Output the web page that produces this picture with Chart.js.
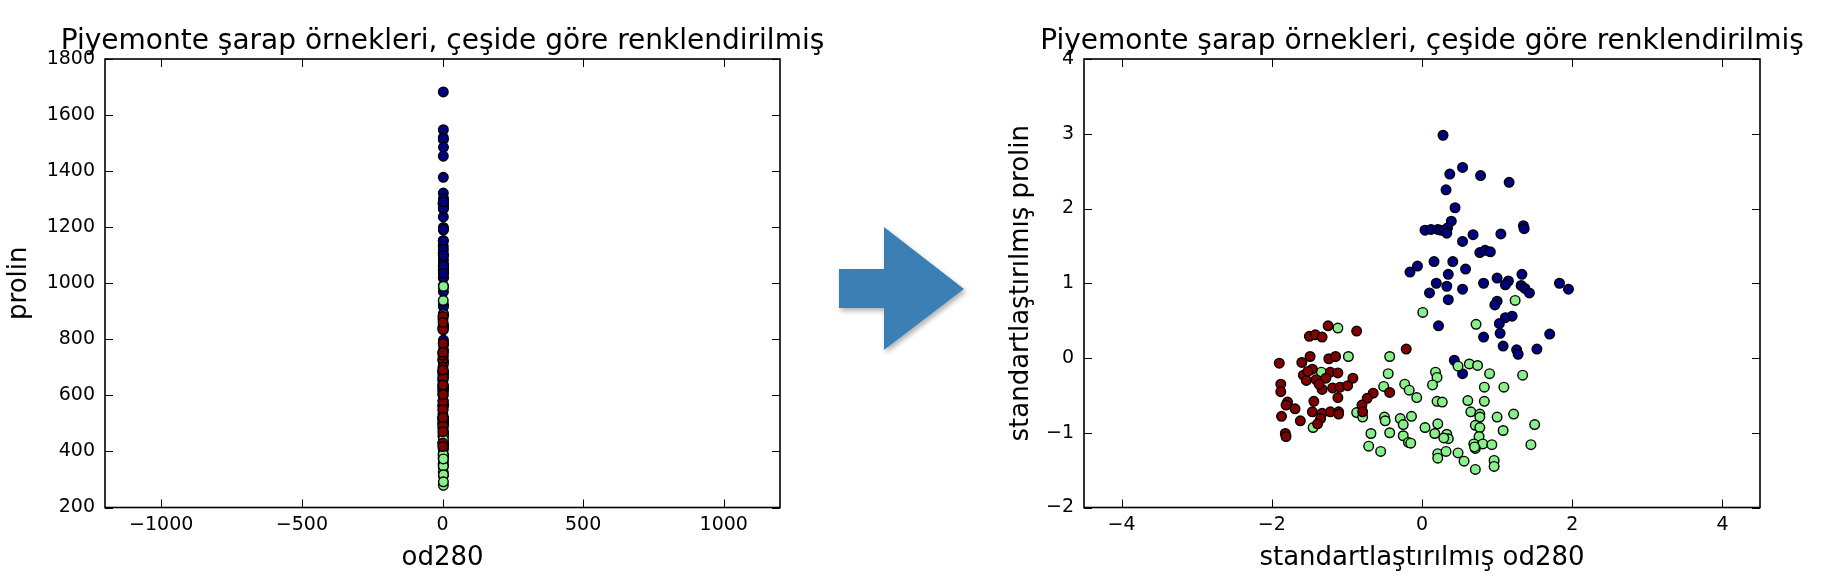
<!DOCTYPE html>
<html>
<head>
<meta charset="utf-8">
<script src="https://cdn.jsdelivr.net/npm/chart.js@4.4.1/dist/chart.umd.min.js"></script>
<style>
  html, body { margin: 0; padding: 0; background: #ffffff; }
  body { width: 1840px; height: 576px; position: relative; overflow: hidden; }
  #rawChart { position: absolute; left: 0; top: 0; }
  #stdChart { position: absolute; left: 920px; top: 0; }
  #arrow { position: absolute; left: 0; top: 0; pointer-events: none; }
</style>
</head>
<body>
<canvas id="rawChart" width="920" height="576"></canvas>
<canvas id="stdChart" width="920" height="576"></canvas>
<svg id="arrow" width="1840" height="576" xmlns="http://www.w3.org/2000/svg">
  <defs>
    <filter id="shade" x="-20%" y="-20%" width="150%" height="150%">
      <feDropShadow dx="2" dy="3" stdDeviation="2.5" flood-color="#000" flood-opacity="0.3"/>
    </filter>
  </defs>
  <polygon points="839,269 884,269 884,227 964,289 884,350 884,308 839,308" fill="#3b7fb4" filter="url(#shade)"/>
</svg>
<script>
// Wine samples from Piedmont, three cultivars.
// Standardized values (z-scores) of od280 and proline per cultivar.
const cultivars = ['Çeşit 1', 'Çeşit 2', 'Çeşit 3'];

const cultivar1Od280 = [0.28, 0.54, 0.37, 0.78, 1.16, 0.32, 0.44, 0.39, 0.34, 0.04,
  0.12, 0.21, 0.25, 0.30, 0.33, 0.54, 0.68, 1.05, 1.35, 1.36,
  0.77, 0.84, 0.91, -0.06, -0.16, 0.16, 0.41, 0.58, 0.35, 0.19,
  0.33, 0.10, 0.54, 0.35, 0.82, 1.00, 1.15, 1.11, 1.33, 1.32,
  1.37, 1.43, 1.83, 1.95, 1.00, 0.97, 0.22, 1.20, 1.11, 1.03,
  1.04, 1.08, 1.70, 0.82, 1.26, 1.28, 1.53, 0.43, 0.54];
const cultivar1Prolin = [2.98, 2.55, 2.46, 2.44, 2.35, 2.25, 2.01, 1.83, 1.74, 1.71,
  1.72, 1.72, 1.71, 1.71, 1.67, 1.56, 1.65, 1.66, 1.77, 1.73,
  1.41, 1.44, 1.42, 1.23, 1.15, 1.29, 1.29, 1.19, 1.12, 1.00,
  0.96, 0.87, 0.92, 0.78, 1.00, 1.07, 1.03, 0.98, 1.12, 0.97,
  0.93, 0.87, 1.00, 0.92, 0.76, 0.71, 0.43, 0.56, 0.54, 0.46,
  0.33, 0.16, 0.32, 0.28, 0.11, 0.05, 0.12, -0.03, -0.21];

const cultivar2Od280 = [-1.12, 0.01, -0.98, -1.34, -0.43, -0.45, -0.51, -0.23, -0.17, -0.07,
  0.18, 0.20, 0.14, 0.20, -0.87, -0.79, -1.45, -0.50, -0.49, -0.29,
  -0.25, -0.14, 0.04, 0.17, 0.21, -0.68, -0.43, -0.25, -0.18, -0.71,
  -0.55, 0.21, 0.21, 1.24, 0.72, 0.48, 0.63, 0.74, 0.90, 1.34,
  0.83, 1.09, 0.27, 0.61, 0.83, 0.65, 0.77, 0.77, 1.00, 1.22,
  1.50, 0.33, 0.35, 0.29, 0.71, 0.77, 0.76, 0.69, 0.81, 0.93,
  0.71, 1.08, 1.45, 0.32, 0.48, 0.56, 0.71, 0.96, 0.96, -0.15,
  0.70];
const cultivar2Prolin = [0.40, 0.61, 0.02, -0.19, 0.02, -0.21, -0.38, -0.35, -0.43, -0.53,
  -0.19, -0.26, -0.36, -0.58, -0.73, -0.79, -0.93, -0.79, -0.84, -0.81,
  -0.89, -0.78, -0.93, -1.01, -0.88, -1.01, -1.00, -1.04, -1.13, -1.18,
  -1.25, -1.28, -1.34, 0.77, 0.45, -0.11, -0.08, -0.10, -0.21, -0.23,
  -0.39, -0.39, -0.59, -0.57, -0.58, -0.72, -0.75, -0.79, -0.79, -0.75,
  -0.89, -1.02, -1.08, -1.07, -0.90, -0.93, -1.05, -1.15, -1.15, -1.16,
  -1.21, -0.97, -1.16, -1.25, -1.27, -1.38, -1.49, -1.37, -1.45, -1.14,
  -1.19];

const cultivar3Od280 = [-1.25, -1.50, -1.42, -1.33, -0.87, -0.21, -1.90, -1.60, -1.49, -1.24,
  -1.15, -1.46, -1.58, -1.54, -1.41, -1.22, -1.12, -1.28, -1.33, -1.19,
  -1.09, -0.99, -0.92, -1.12, -1.88, -1.88, -1.79, -1.81, -1.69, -1.44,
  -1.46, -1.87, -1.62, -1.33, -1.22, -1.11, -1.11, -1.35, -1.39, -1.82,
  -1.81, -0.65, -0.73, -0.80, -0.79, -0.43, -1.52, -1.37];
const cultivar3Prolin = [0.43, 0.29, 0.31, 0.28, 0.36, 0.12, -0.07, -0.06, 0.02, -0.01,
  0.02, -0.15, -0.23, -0.30, -0.29, -0.19, -0.20, -0.27, -0.42, -0.40,
  -0.39, -0.37, -0.27, -0.53, -0.35, -0.45, -0.59, -0.63, -0.68, -0.58,
  -0.72, -0.78, -0.84, -0.74, -0.72, -0.72, -0.75, -0.81, -0.88, -1.01,
  -1.05, -0.47, -0.54, -0.63, -0.72, -0.46, -0.18, -0.35];

// Scaler parameters used to standardize the raw measurements
const OD280_MEAN = 2.6117, OD280_STD = 0.7080;
const PROLIN_MEAN = 746.89, PROLIN_STD = 314.02;

// Tick labels
const rawXTicks = [-1000, -500, 0, 500, 1000];
const rawYTicks = [200, 400, 600, 800, 1000, 1200, 1400, 1600, 1800];
const stdXTicks = [-4, -2, 0, 2, 4];
const stdYTicks = [-2, -1, 0, 1, 2, 3, 4];

const TITLE = 'Piyemonte şarap örnekleri, çeşide göre renklendirilmiş';
const cultivarColors = ['#000080', '#88f088', '#800000'];

const stdSeries = [
  [cultivar1Od280, cultivar1Prolin],
  [cultivar2Od280, cultivar2Prolin],
  [cultivar3Od280, cultivar3Prolin]
];

const FONT = "'DejaVu Sans', 'Liberation Sans', sans-serif";
Chart.defaults.font.family = FONT;
Chart.defaults.color = '#000000';

const minus = v => String(v).replace('-', '\u2212');

// Boxed frame with inward ticks on all four sides
const framePlugin = {
  id: 'frame',
  afterDatasetsDraw(chart) {
    const { ctx, chartArea: a, scales: { x, y } } = chart;
    const len = 8;
    ctx.save();
    ctx.strokeStyle = '#000000';
    ctx.lineWidth = 1;
    ctx.beginPath();
    x.ticks.forEach(t => {
      const px = Math.round(x.getPixelForValue(t.value)) + 0.5;
      ctx.moveTo(px, a.bottom); ctx.lineTo(px, a.bottom - len);
      ctx.moveTo(px, a.top); ctx.lineTo(px, a.top + len);
    });
    y.ticks.forEach(t => {
      const py = Math.round(y.getPixelForValue(t.value)) + 0.5;
      ctx.moveTo(a.left, py); ctx.lineTo(a.left + len, py);
      ctx.moveTo(a.right, py); ctx.lineTo(a.right - len, py);
    });
    ctx.stroke();
    ctx.lineWidth = 1.6;
    ctx.strokeRect(a.left, a.top, a.right - a.left, a.bottom - a.top);
    ctx.restore();
  }
};

// Title centred over the plotting area, free to run wider than the axes
const axesTitlePlugin = {
  id: 'axesTitle',
  afterDraw(chart, args, opts) {
    const { ctx, chartArea: a } = chart;
    ctx.save();
    ctx.font = `normal 28px ${FONT}`;
    ctx.fillStyle = '#000000';
    ctx.textAlign = 'center';
    ctx.textBaseline = 'alphabetic';
    ctx.fillText(opts.text, (a.left + a.right) / 2, 48.5);
    ctx.restore();
  }
};

function makeDatasets(toPoint) {
  // draw order: cultivar 1 first, cultivar 3 last (on top)
  return stdSeries.map(([xs, ys], k) => ({
    label: cultivars[k],
    data: xs.map((v, i) => toPoint(v, ys[i])),
    backgroundColor: cultivarColors[k],
    borderColor: '#000000',
    pointRadius: 4.8,
    pointBorderWidth: 1.4,
    pointHoverRadius: 4.8,
    order: 2 - k
  }));
}

function axis(min, max, tickValues, title, fit) {
  return {
    type: 'linear',
    min, max,
    afterBuildTicks: s => { s.ticks = tickValues.map(v => ({ value: v })); },
    afterFit: fit,
    grid: { display: false, drawTicks: false },
    border: { display: false },
    ticks: { font: { size: 19 }, color: '#000000', callback: v => minus(v) },
    title: { display: true, text: title, font: { size: 26 }, color: '#000000' }
  };
}

function buildChart(canvasId, datasets, xCfg, yCfg, rightPad) {
  return new Chart(document.getElementById(canvasId), {
    type: 'scatter',
    data: { datasets },
    options: {
      responsive: false,
      animation: false,
      events: [],
      layout: { padding: { left: 0, top: 59, right: rightPad, bottom: 0 } },
      plugins: {
        legend: { display: false },
        tooltip: { enabled: false },
        axesTitle: { text: TITLE }
      },
      scales: { x: xCfg, y: yCfg }
    },
    plugins: [framePlugin, axesTitlePlugin]
  });
}

// Left: raw measurements
const rawX = axis(-1200, 1200, rawXTicks, 'od280', s => { s.height = 68.5; });
rawX.ticks.padding = 6;
rawX.title.padding = { top: 0, bottom: 2.4 };
const rawY = axis(200, 1800, rawYTicks, 'prolin', s => { s.width = 105; });
rawY.ticks.padding = 10;
rawY.title.padding = { top: 3.2, bottom: 0 };
buildChart('rawChart',
  makeDatasets((zx, zy) => ({ x: OD280_MEAN + OD280_STD * zx, y: PROLIN_MEAN + PROLIN_STD * zy })),
  rawX, rawY, 920 - 780);

// Right: standardized measurements
const stdX = axis(-4.5, 4.5, stdXTicks, 'standartlaştırılmış od280', s => { s.height = 68.5; });
stdX.ticks.padding = 6;
stdX.title.padding = { top: 0, bottom: 2.4 };
const stdY = axis(-2, 4, stdYTicks, 'standartlaştırılmış prolin', s => { s.width = 1084 - 920; });
stdY.ticks.padding = 10;
stdY.title.padding = { top: 86, bottom: 0 };
buildChart('stdChart',
  makeDatasets((zx, zy) => ({ x: zx, y: zy })),
  stdX, stdY, 1840 - 1760);
</script>
</body>
</html>
